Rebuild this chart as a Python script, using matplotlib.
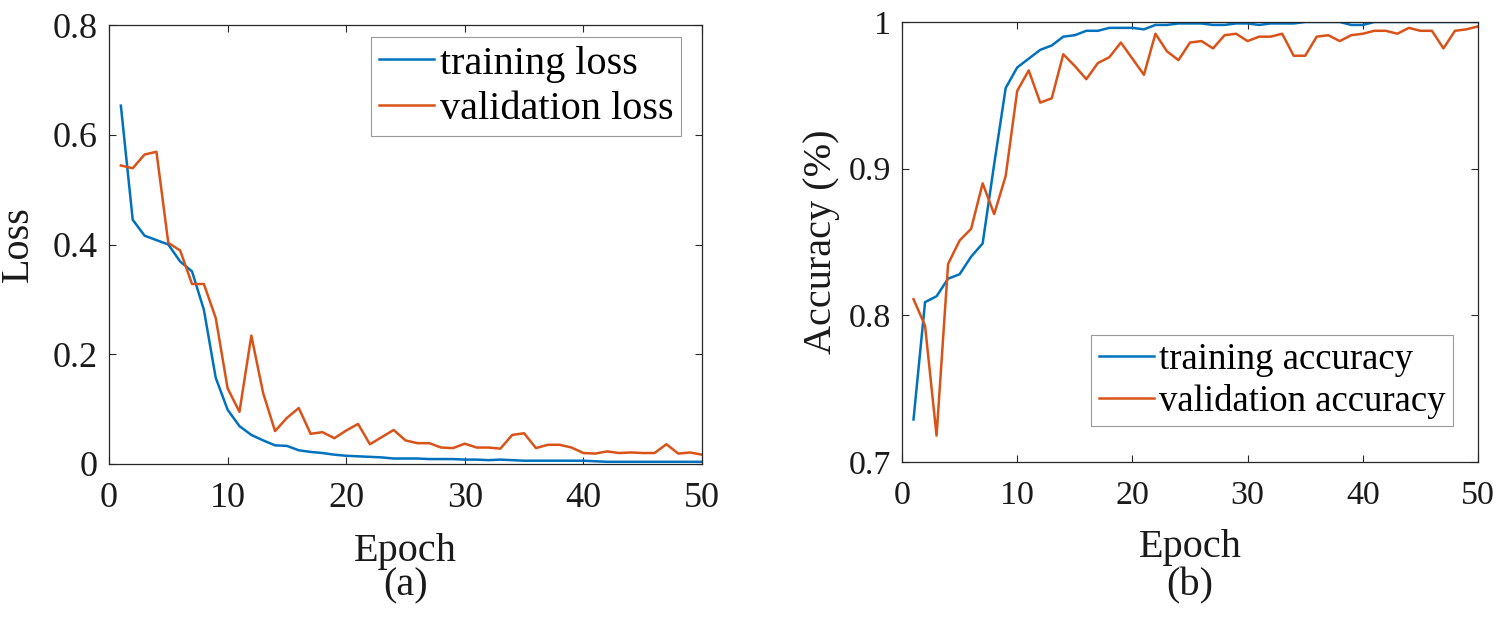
import matplotlib
matplotlib.use("Agg")
import matplotlib.pyplot as plt

# ---------------- data ----------------
epochs = list(range(1, 51))

train_loss = [0.653, 0.445, 0.416, 0.408, 0.400, 0.369, 0.351, 0.281, 0.157, 0.099,
              0.069, 0.053, 0.043, 0.034, 0.033, 0.025, 0.022, 0.020, 0.017, 0.015,
              0.014, 0.013, 0.012, 0.010, 0.010, 0.010, 0.009, 0.009, 0.009, 0.008,
              0.008, 0.007, 0.008, 0.007, 0.006, 0.006, 0.006, 0.006, 0.006, 0.006,
              0.005, 0.004, 0.004, 0.004, 0.004, 0.004, 0.004, 0.004, 0.004, 0.004]

val_loss = [0.544, 0.539, 0.564, 0.569, 0.403, 0.389, 0.328, 0.328, 0.266, 0.138,
            0.095, 0.234, 0.129, 0.060, 0.084, 0.102, 0.055, 0.058, 0.047, 0.061,
            0.073, 0.036, 0.049, 0.062, 0.043, 0.038, 0.038, 0.030, 0.029, 0.037,
            0.030, 0.030, 0.028, 0.053, 0.056, 0.029, 0.035, 0.035, 0.030, 0.020,
            0.019, 0.023, 0.020, 0.021, 0.020, 0.020, 0.036, 0.019, 0.021, 0.017]

train_acc = [0.729, 0.809, 0.813, 0.825, 0.828, 0.840, 0.849, 0.903, 0.955, 0.969,
             0.975, 0.981, 0.984, 0.990, 0.991, 0.994, 0.994, 0.996, 0.996, 0.996,
             0.995, 0.998, 0.998, 0.999, 0.999, 0.999, 0.998, 0.998, 0.999, 0.999,
             0.998, 0.999, 0.999, 0.999, 1.000, 1.000, 1.000, 1.000, 0.998, 0.998,
             1.000, 1.000, 1.000, 1.000, 1.000, 1.000, 1.000, 1.000, 1.000, 1.000]

val_acc = [0.811, 0.793, 0.718, 0.835, 0.851, 0.859, 0.890, 0.869, 0.895, 0.953,
           0.967, 0.945, 0.948, 0.978, 0.970, 0.961, 0.972, 0.976, 0.986, 0.975,
           0.964, 0.992, 0.980, 0.974, 0.986, 0.987, 0.982, 0.991, 0.992, 0.987,
           0.990, 0.990, 0.992, 0.977, 0.977, 0.990, 0.991, 0.987, 0.991, 0.992,
           0.994, 0.994, 0.992, 0.996, 0.994, 0.994, 0.982, 0.994, 0.995, 0.997]

x_ticks = [0, 10, 20, 30, 40, 50]
x_tick_labels = ["0", "10", "20", "30", "40", "50"]
loss_ticks = [0, 0.2, 0.4, 0.6, 0.8]
loss_tick_labels = ["0", "0.2", "0.4", "0.6", "0.8"]
acc_ticks = [0.7, 0.8, 0.9, 1.0]
acc_tick_labels = ["0.7", "0.8", "0.9", "1"]

# ---------------- style ----------------
plt.rcParams['font.family'] = ['Liberation Serif', 'DejaVu Serif']
BLUE = '#0072BD'
ORANGE = '#D95319'
AX_COLOR = '#262626'
TXT = '#1a1a1a'
LABEL_FS = 29

W, H = 1512, 617
fig = plt.figure(figsize=(W / 100, H / 100), dpi=100)


def px_axes(x0, y0, x1, y1):
    return fig.add_axes([x0 / W, 1 - y1 / H, (x1 - x0) / W, (y1 - y0) / H])


def style_axes(ax, fs):
    for s in ax.spines.values():
        s.set_color(AX_COLOR)
        s.set_linewidth(0.9)
    ax.tick_params(direction='in', top=True, right=True, length=5, width=0.8,
                   color=AX_COLOR, labelsize=fs, labelcolor=TXT)
    ax.tick_params(axis='y', pad=8)
    ax.tick_params(axis='x', pad=13)


# ---- (a) loss ----
ax1 = px_axes(109, 25, 702, 464)
ax1.plot(epochs, train_loss, color=BLUE, lw=1.8, label='training loss')
ax1.plot(epochs, val_loss, color=ORANGE, lw=1.8, label='validation loss')
ax1.set_xlim(0, 50)
ax1.set_ylim(0, 0.8)
ax1.set_xticks(x_ticks, x_tick_labels)
ax1.set_yticks(loss_ticks, loss_tick_labels)
style_axes(ax1, 26)
ax1.set_xlabel('Epoch', fontsize=LABEL_FS, labelpad=13, color=TXT)
ax1.set_ylabel('Loss', fontsize=LABEL_FS, color=TXT)
ax1.yaxis.set_label_coords(-0.121, 0.5)
leg1 = ax1.legend(loc='upper right', bbox_to_anchor=(0.965, 0.972), fontsize=29,
                  frameon=True, fancybox=False, edgecolor='#808080', borderpad=0.2,
                  labelspacing=0.2, handlelength=1.35, handletextpad=0.15,
                  borderaxespad=0)
leg1.get_frame().set_linewidth(0.8)

# ---- (b) accuracy ----
ax2 = px_axes(902, 22, 1478, 462)
ax2.plot(epochs, train_acc, color=BLUE, lw=1.8, label='training accuracy')
ax2.plot(epochs, val_acc, color=ORANGE, lw=1.8, label='validation accuracy')
ax2.set_xlim(0, 50)
ax2.set_ylim(0.7, 1.0)
ax2.set_xticks(x_ticks, x_tick_labels)
ax2.set_yticks(acc_ticks, acc_tick_labels)
style_axes(ax2, 24.5)
ax2.set_xlabel('Epoch', fontsize=LABEL_FS, labelpad=13, color=TXT)
ax2.set_ylabel('Accuracy (%)', fontsize=LABEL_FS, color=TXT)
ax2.yaxis.set_label_coords(-0.108, 0.5)
leg2 = ax2.legend(loc='lower right', bbox_to_anchor=(0.957, 0.081), fontsize=26.5,
                  frameon=True, fancybox=False, edgecolor='#808080', borderpad=0.2,
                  labelspacing=0.2, handlelength=1.5, handletextpad=0.15,
                  borderaxespad=0)
leg2.get_frame().set_linewidth(0.8)

fig.text(405.5 / W, 1 - 586 / H, '(a)', fontsize=LABEL_FS, ha='center', va='center',
         color=TXT)
fig.text(1190 / W, 1 - 586 / H, '(b)', fontsize=LABEL_FS, ha='center', va='center',
         color=TXT)

fig.savefig('out.png', dpi=100, facecolor='white')
